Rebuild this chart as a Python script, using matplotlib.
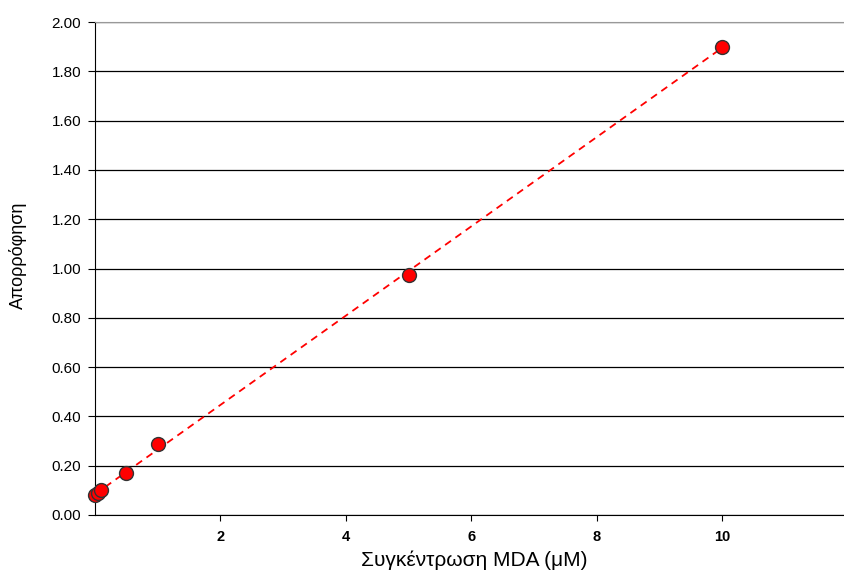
import numpy as np
import matplotlib
matplotlib.use("Agg")
import matplotlib.pyplot as plt

plt.rcParams['font.family'] = ['Liberation Sans', 'DejaVu Sans']

conc = [0, 0.05, 0.1, 0.5, 1, 5, 10]
absorb = [0.08, 0.09, 0.10, 0.17, 0.29, 0.975, 1.90]
x_ticks = [2, 4, 6, 8, 10]
y_ticks = [0.0, 0.2, 0.4, 0.6, 0.8, 1.0, 1.2, 1.4, 1.6, 1.8, 2.0]

fig = plt.figure(figsize=(8.44, 5.71), dpi=100)
ax = fig.add_axes([95/844, 1 - 515/571, (844 - 95)/844, (515 - 22)/571])

# linear trendline
m, b = np.polyfit(conc, absorb, 1)
xl = np.array([min(conc), max(conc)])
ax.plot(xl, m * xl + b, color='#ff0000', linestyle=(0, (4, 3)), linewidth=1.3, zorder=2)

ax.plot(conc, absorb, linestyle='none', marker='o', markersize=10,
        markerfacecolor='#ff0000', markeredgecolor='#333333', markeredgewidth=1.0, zorder=3,
        clip_on=False)

ax.set_xlim(0, (844 - 95) / ((722 - 95) / 10))
ax.set_ylim(0, 2.0)
ax.set_xticks(x_ticks)
ax.set_yticks(y_ticks)
ax.set_yticklabels([f"{v:.2f}" for v in y_ticks])
ax.yaxis.grid(True, color='#000000', linewidth=0.9)
ax.set_axisbelow(True)

ax.spines['right'].set_visible(False)
ax.spines['top'].set_color('#999999')
ax.spines['left'].set_color('#000000')
ax.spines['bottom'].set_color('#000000')
ax.tick_params(axis='y', length=5, direction='out', labelsize=11, pad=5)
ax.tick_params(axis='x', length=4, direction='out', labelsize=10.5, pad=7)
for lab in ax.get_xticklabels():
    lab.set_fontweight('bold')

ax.set_xlabel('Συγκέντρωση MDA (μM)', fontsize=15, va='center')
ax.xaxis.set_label_coords(474 / 844, 1 - 560 / 571, transform=fig.transFigure)

ax.set_ylabel('Απορρόφηση', fontsize=13, va='center')
ax.yaxis.set_label_coords(18 / 844, 1 - 255 / 571, transform=fig.transFigure)

fig.savefig('out.png', dpi=100)
